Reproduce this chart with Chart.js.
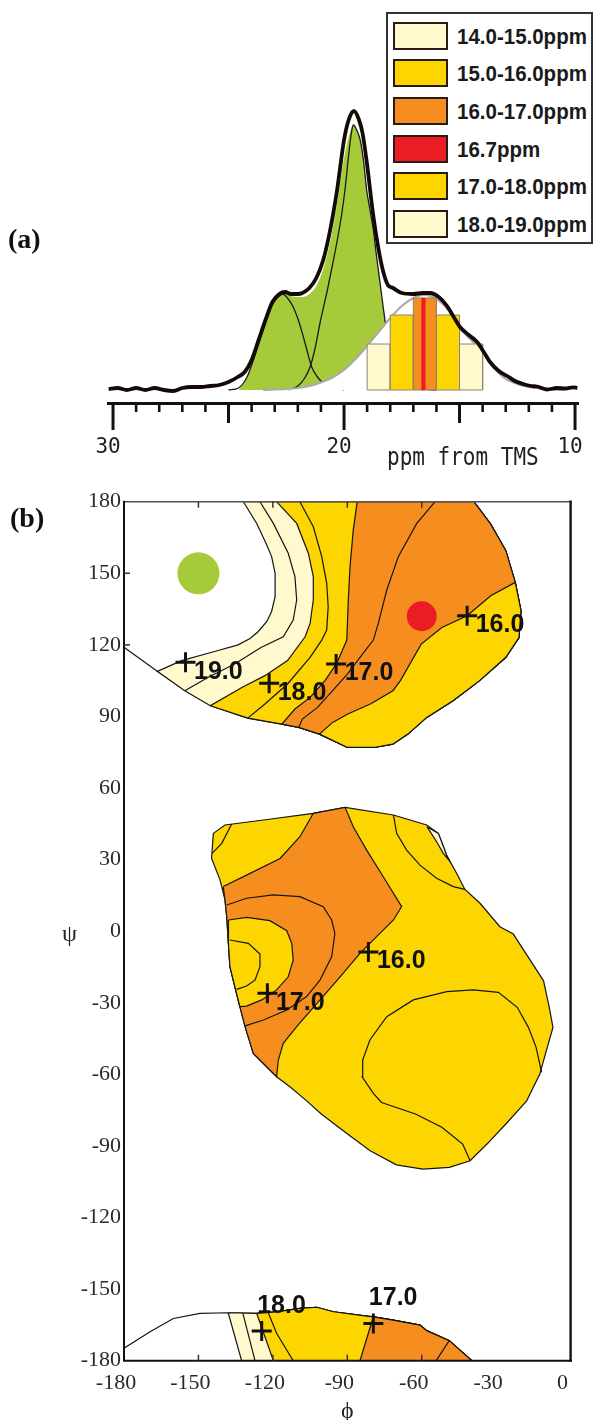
<!DOCTYPE html>
<html><head><meta charset="utf-8">
<script src="https://cdn.jsdelivr.net/npm/chart.js@4.4.1/dist/chart.umd.min.js"></script>
<style>
html,body{margin:0;padding:0;background:#fff;}
body{position:relative;width:595px;height:1420px;overflow:hidden;font-family:'Liberation Sans',Arial,sans-serif;}
canvas{position:absolute;left:0;}
#ca{top:0;}
#cb{top:470px;}
.panel{position:absolute;font-family:'Liberation Serif','Times New Roman',serif;font-weight:bold;font-size:28px;line-height:28px;color:#111;}
#legend{position:absolute;left:386px;top:12px;width:207px;height:232px;box-sizing:border-box;border:2px solid #333;background:#fff;}
.sw{position:absolute;left:5px;width:55px;height:28px;box-sizing:border-box;border:2.5px solid #2a1a14;}
.lt{position:absolute;left:69px;font-weight:bold;font-size:20.5px;line-height:28px;height:28px;color:#1a1a1a;transform:scaleY(1.12);transform-origin:left center;white-space:nowrap;}
#ppm{position:absolute;left:387px;top:443px;font-family:'DejaVu Sans Mono',monospace;font-size:21px;line-height:24px;color:#222;transform:scaleY(1.15);transform-origin:left top;white-space:nowrap;}
#psi{position:absolute;left:62px;top:919px;font-family:'Liberation Serif','Times New Roman',serif;font-size:24px;line-height:28px;color:#222;}
</style></head>
<body>
<canvas id="ca" width="595" height="470" style="width:595px;height:470px"></canvas>
<canvas id="cb" width="595" height="950" style="width:595px;height:950px"></canvas>
<div class="panel" style="left:8px;top:225px">(a)</div>
<div class="panel" style="left:10px;top:504px">(b)</div>
<div id="legend"></div>
<div id="ppm">ppm from TMS</div>
<div id="psi">ψ</div>
<script>
// ---------------- panel (a) data ----------------
const totalPpm = [30.2,29.8,29.4,29.0,28.6,28.2,27.8,27.4,27.0,26.6,26.2,25.8,25.4,25.0,24.6,24.3,24.0,23.7,23.4,23.1,22.8,22.55,22.3,22.0,21.8,21.5,21.2,20.9,20.6,20.3,20.0,19.8,19.57,19.35,19.2,19.0,18.75,18.5,18.3,18.1,17.88,17.5,17.0,16.6,16.28,15.9,15.54,15.25,14.98,14.6,14.24,13.95,13.68,13.3,12.94,12.6,12.25,11.9,11.64,11.2,10.8,10.4,10.09,9.9];
const totalInt = [1,2,0,2,0,2,0,-1,2,3,3,4,5,8,13,18,30,50,70,88,96,98,96,96,97,102,112,130,160,200,250,270,279,270,257,225,177,140,118,105,102,97,96,97,97,93,84,73,63,55,48,38,28,19,14,9,6,4,3.5,0.5,2,1.5,2.7,2];
const greenPpm = [24.57,24.3,24.0,23.7,23.4,23.1,22.8,22.55,22.3,22.0,21.8,21.5,21.2,20.9,20.6,20.3,20.0,19.8,19.6,19.45,19.3,19.15,19.02,18.9,18.73,18.6,18.44,18.3,18.15,18.0,17.8,17.5,17.0,16.5,16.0];
const greenInt = [0,8,25,48,68,85,93,96,94,93,93,96,104,121,148,187,232,253,265,260,250,228,200,183,160,135,107,82,58,42,28,14,5,1,0];
const peak1Ppm = [22.4,22.0,21.7,21.47,21.25,21.04,20.72,20.5,20.29,20.1,19.96,19.8,19.7,19.6,19.45,19.3,19.15,19.02,18.9,18.73,18.6,18.44,18.3,18.15,18.0,17.8,17.5,17.0,16.5,16.0];
const peak1Int = [0,4,12,23,42,67,100,125,150,176,200,235,254,265,260,250,228,200,183,160,135,107,82,58,42,28,14,5,1,0];
const peak2Ppm = [25.0,24.57,24.2,23.85,23.5,23.2,23.06,22.85,22.65,22.45,22.2,21.95,21.76,21.55,21.4,21.15,20.9,20.6,20.3,20.0];
const peak2Int = [0,2,13,35,60,80,87,93,96,92,83,68,53,35,23,13,7,4,2,0];
const peak3Ppm = [23.5,22.5,22.0,21.5,21.0,20.5,20.0,19.5,19.0,18.5,18.0,17.5,17.0,16.55,16.0,15.5,15.0,14.5,14.0,13.5,13.0,12.5,12.0,11.5,11.0,10.5];
const peak3Int = [0,1,2,4,7.5,12.5,20,31,44,58,72,84,92,95,91,80,62,50,38,22,11,6,3,1.5,0.5,0];
// histogram bins (ppm ranges) and heights
const binLo = [18.0,17.0,16.0,15.0,14.0];
const binHi = [19.0,18.0,17.0,16.0,15.0];
const binH  = [46,75,92,75,46];
const redLo = 16.5, redHi = 16.64, redH = 92;
const legendLabels = ['14.0-15.0ppm','15.0-16.0ppm','16.0-17.0ppm','16.7ppm','17.0-18.0ppm','18.0-19.0ppm'];
const axisTicksA = {from:10, to:30, step:1};

// ---------------- panel (b) data (phi, psi) ----------------
const topBay = [[-131.9,180],[-126.5,170.9],[-122.5,162],[-120.5,157],[-119.1,150],[-119.1,140.2],[-120.5,134],[-122.5,129.7],[-126,125.5],[-129.2,122.7],[-134,120],[-144.6,116.9],[-156.8,113.4],[-166.6,108.9]];
const topOuter = [[-166.6,108.9],[-155.5,100.8],[-145.2,94.5],[-130.1,89.3],[-116.4,86.8],[-109.6,85.4],[-101.2,82.6],[-89.9,77.0],[-79.3,77.0],[-71.7,78.4],[-65.6,82.6],[-58.0,89.6],[-47.4,96.6],[-36.7,105.0],[-26.1,114.8],[-20.8,123.1],[-20.0,134.3],[-22.3,146.2],[-26.1,159.5],[-32.2,170.6],[-39.0,180]];
const topEdge = [[-180,119],[-166.6,108.9]];
const topA = [[-125.2,180],[-119.8,170.9],[-113.8,158.4],[-111.1,148.6],[-110.4,138.8],[-111.8,130.4],[-115.8,123.4],[-124.8,118.9],[-135.4,112.0],[-146.0,106.4],[-155.5,100.8]];
const topB = [[-118.5,180],[-110.4,170.9],[-105.7,158.4],[-103.7,148.6],[-103.7,138.8],[-105.0,129],[-107.0,123.4],[-114.1,113.4],[-123.2,107.1],[-132.3,102.2],[-145.2,94.5]];
const topC = [[-109.1,180],[-103.7,169.5],[-100.3,157],[-98.3,145.8],[-97.7,136],[-98.3,126.2],[-100.3,122],[-105.0,114.8],[-114.1,103.6],[-123.2,95.2],[-130.1,89.3]];
const topD = [[-86.0,180],[-87.6,168.1],[-88.9,152.8],[-89.6,138.8],[-90.2,122],[-94.4,112.0],[-99.0,105.0],[-105.0,98.0],[-111.1,93.1],[-116.4,86.8]];
const topE = [[-54.6,180],[-62.0,170.9],[-69.4,157],[-74.1,143],[-77.5,129],[-79.5,122],[-83.8,116.2],[-89.9,107.8],[-95.9,100.8],[-102.0,93.8],[-108.1,88.9],[-109.6,85.4]];
const topF = [[-22.3,146.2],[-32.2,140.6],[-41.7,132.2],[-51.9,127.3],[-60.2,120.3],[-64.0,113.4],[-68.6,105.0],[-71.6,100.8],[-80.7,95.2],[-89.8,91.0],[-95.9,87.5],[-101.2,82.6]];

const midOuter = [[-144.0,41.0],[-139.3,44.5],[-123.8,46.6],[-103.7,49.4],[-90.9,51.9],[-71.4,48.7],[-58.0,44.5],[-53.3,41.0],[-50.0,31.9],[-45.9,24.2],[-42.6,17.5],[-36.5,11.7],[-28.5,1.9],[-23.1,-1.2],[-17.0,-11.0],[-10.9,-20.8],[-8.6,-31.9],[-7.1,-40.3],[-9.4,-48.7],[-12.4,-59.9],[-17.7,-71.1],[-26.1,-80.8],[-33.7,-89.2],[-40.5,-96.2],[-48.9,-99.0],[-59.5,-99.7],[-70.2,-97.9],[-80.8,-92.0],[-89.9,-85.0],[-100.5,-76.6],[-106.5,-71.0],[-113.1,-65.2],[-118.5,-61.0],[-122.5,-56.8],[-127.9,-51.2],[-131.2,-40.0],[-133.3,-31.6],[-135.3,-23.3],[-137.3,-14.9],[-138.0,-3.7],[-138.6,6.1],[-139.3,13.1],[-141.3,21.5],[-144.7,30.5]];
const midOrangeUpper = [[-140.0,18.7],[-130.6,23.5],[-117.1,30.5],[-109.1,39.6]];
const midOrangeRight = [[-87.6,43.8],[-82.2,34.0],[-75.5,22.8],[-68.1,10.3],[-71.4,4.7],[-78.2,-2.3],[-84.9,-9.3],[-92.9,-19.1],[-101.0,-28.8],[-110.4,-40.0],[-115.8,-47.0],[-117.8,-54.0],[-118.5,-61.0]];
const midInner = [[-137.9,4.7],[-130.6,5.8],[-121.2,4.4],[-114.4,0.2],[-112.4,-5.1],[-111.8,-12.1],[-113.8,-19.1],[-118.5,-24.6],[-124.5,-28.8],[-130.6,-31.4],[-133.3,-31.6]];
const midL1 = [[-138.6,11.0],[-130.6,13.8],[-119.8,15.2],[-109.1,14.5],[-99.7,10.3],[-96.3,4.7],[-95.0,-0.9],[-96.3,-10.7],[-101.0,-20.5],[-106.4,-27.4],[-114.4,-33.0],[-123.8,-37.2],[-131.2,-39.7]];
const midL3 = [[-137.3,-3.7],[-129.9,-5.1],[-125.2,-9.6],[-125.2,-14.9],[-127.2,-20.5],[-130.6,-23.0],[-134.6,-24.4]];
const midCorner = [[-136.6,44.9],[-140.6,36.8],[-144.5,32.6]];
const midR1 = [[-71.4,48.7],[-70.1,41.0],[-66.1,34.0],[-60.7,27.7],[-54.0,22.2],[-47.3,18.7],[-42.6,17.5]];
const midCream = [[-57.9,43.8],[-53.3,41.0],[-50.0,31.9],[-48.9,29.6],[-51.3,32.6],[-54.0,37.5]];
const midEllipse = [[-40.5,-96.2],[-43.5,-89.2],[-51.9,-82.2],[-62.5,-76.6],[-76.2,-71.8],[-79.5,-68.0],[-84.0,-61.0],[-83.8,-54.0],[-80.9,-45.6],[-74.1,-35.8],[-63.4,-28.8],[-49.9,-25.3],[-39.2,-24.6],[-29.1,-25.6],[-21.5,-31.9],[-17.0,-40.3],[-13.9,-48.7],[-11.7,-59.2]];

const botOuter = [[-180,-174.8],[-169.5,-167.9],[-160.1,-162.3],[-149.4,-160.2],[-138.0,-159.9],[-126.5,-160.2],[-118.5,-159.5],[-109.1,-158.1],[-102.3,-157.6],[-95.6,-159.5],[-82.2,-161.3],[-79.5,-161.6],[-71.5,-163.0],[-60.7,-165.1],[-58.0,-167.4],[-48.9,-171.6],[-39.8,-180]];
const botCreamFoot = [-132.6,-180], botYellowFoot = [-119.8,-180], botOrangeFoot = [-84.9,-180], botCorner = [-180,-180];
const botCreamMid = [[-132.1,-160.1],[-127.2,-180]];
const botYellowLine = [[-121.8,-160.0],[-118.5,-168.5],[-111.8,-180]];
const botOrangeLine = [[-48.9,-171.6],[-54.2,-180]];

const crossPhi = [-155.2,-121.5,-94.5,-41.7,-81.5,-122.2,-124.5,-79.5];
const crossPsi = [112.7,103.9,112.0,132.2,-8.7,-26.0,-167.6,-164.4];
const crossLabel = ['19.0','18.0','17.0','16.0','16.0','17.0','18.0','17.0'];
const crossSide = ['right','right','right','right','right','right','above','above'];
const greenDot = [-150,150];
const redDot = [-60,132];
const xTickMarksB = [-150,-120,-90,-60];
const yTickMarksB = [150,120];

// ---------------- colours ----------------
const CREAM='#FFF9CD', YELLOW='#FDD500', ORANGE='#F68E1F', RED='#EC1C24', GREEN='#A5CB3A';
const legendColors = [CREAM,YELLOW,ORANGE,RED,YELLOW,CREAM];
const binColors = [CREAM,YELLOW,ORANGE,YELLOW,CREAM];

// legend
const lg = document.getElementById('legend');
legendLabels.forEach((t,i)=>{
  const top = 7.7 + i*37.6;
  const sw = document.createElement('div'); sw.className='sw'; sw.style.top=top+'px'; sw.style.background=legendColors[i]; lg.appendChild(sw);
  const tx = document.createElement('div'); tx.className='lt'; tx.style.top=top+'px'; tx.textContent=t; lg.appendChild(tx);
});

// helpers
const xy = (xs,ys)=>xs.map((x,i)=>({x:x,y:ys[i]}));
const P = arr=>arr.map(p=>({x:p[0],y:p[1]}));
const closed = arr=>P(arr.concat([arr[0]]));
function withOrder(ds){ ds.forEach((d,i)=>{ d.order = ds.length - i; }); return ds; }

// ---------------- chart (a) ----------------
const dsA = [];
dsA.push({data:xy(greenPpm,greenInt),showLine:true,fill:'origin',backgroundColor:GREEN,borderWidth:0,pointRadius:0,cubicInterpolationMode:'monotone'});
dsA.push({data:xy(peak1Ppm,peak1Int),showLine:true,fill:false,borderColor:'#1a1a1a',borderWidth:1.3,pointRadius:0,cubicInterpolationMode:'monotone'});
dsA.push({data:xy(peak2Ppm,peak2Int),showLine:true,fill:false,borderColor:'#1a1a1a',borderWidth:1.3,pointRadius:0,cubicInterpolationMode:'monotone'});
dsA.push({data:xy(peak3Ppm,peak3Int),showLine:true,fill:'origin',backgroundColor:'#ffffff',borderColor:'#a9a9a9',borderWidth:2,pointRadius:0,cubicInterpolationMode:'monotone'});
binLo.forEach((lo,i)=>{
  const hi=binHi[i], h=binH[i];
  dsA.push({data:P([[hi,0],[hi,h],[lo,h],[lo,0],[hi,0]]),showLine:true,fill:'shape',backgroundColor:binColors[i],borderColor:'#8e8472',borderWidth:1,pointRadius:0});
});
dsA.push({data:P([[redHi,0],[redHi,redH],[redLo,redH],[redLo,0],[redHi,0]]),showLine:true,fill:'shape',backgroundColor:RED,borderColor:RED,borderWidth:0.5,pointRadius:0});
dsA.push({data:xy(totalPpm,totalInt),showLine:true,fill:false,borderColor:'#140a08',borderWidth:3.8,pointRadius:0,cubicInterpolationMode:'monotone'});
withOrder(dsA);

const specTicks = {id:'specTicks', afterDraw(chart){
  const s = chart.scales.x, ctx = chart.ctx, y0 = s.top;
  ctx.save(); ctx.strokeStyle='#111'; ctx.lineCap='butt';
  for (let v = axisTicksA.from; v <= axisTicksA.to; v += axisTicksA.step){
    const x = s.getPixelForValue(v);
    const m10 = v % 10 === 0, m5 = v % 5 === 0;
    ctx.lineWidth = m5 ? 3 : 2.6;
    ctx.beginPath(); ctx.moveTo(x, y0); ctx.lineTo(x, y0 + (m10 ? 27 : (m5 ? 20 : 9))); ctx.stroke();
  }
  ctx.restore();
}};

new Chart(document.getElementById('ca'), {
  type:'scatter',
  data:{datasets:dsA},
  options:{
    responsive:false, animation:false, events:[],
    layout:{padding:{left:108.4,right:16.5,top:60,bottom:0}},
    plugins:{legend:{display:false},tooltip:{enabled:false}},
    scales:{
      x:{type:'linear',reverse:true,min:9.85,max:30.2,
         afterFit:(s)=>{s.height=67;},
         grid:{display:false,drawTicks:true,tickLength:31},
         border:{display:true,width:3,color:'#111'},
         ticks:{stepSize:1,includeBounds:false,autoSkip:false,maxRotation:0,minRotation:0,padding:1,labelOffset:-5,color:'#222',
                font:{family:'DejaVu Sans Mono',size:21},
                callback:(v)=> (Math.abs(v%10)<1e-6 ? String(Math.round(v)) : '')}},
      y:{display:false,min:-13,max:330}
    }
  },
  plugins:[specTicks]
});

// ---------------- chart (b) ----------------
function region(arr,color){ return {data:closed(arr),showLine:true,fill:'shape',backgroundColor:color,borderColor:'#151515',borderWidth:1.2,pointRadius:0,tension:0}; }
function contour(arr){ return {data:P(arr),showLine:true,fill:false,borderColor:'#151515',borderWidth:1.2,pointRadius:0,tension:0}; }

const dsB = [];
// top region
dsB.push(region(topBay.concat(topOuter.slice(1)),CREAM));
dsB.push(region(topB.concat(topOuter.slice(3)),YELLOW));
dsB.push(region(topD.concat(topOuter.slice(5)),ORANGE));
dsB.push(region(topF.concat(topOuter.slice(7,17)),YELLOW));
[topA,topC,topE,topEdge].forEach(l=>dsB.push(contour(l)));
// middle region
dsB.push(region(midOuter,YELLOW));
dsB.push(region(midOrangeUpper.concat(midOuter.slice(3,5),midOrangeRight,midOuter.slice(33,42)),ORANGE));
dsB.push(region(midInner.concat(midOuter.slice(37,40)),YELLOW));
dsB.push(region(midCream,CREAM));
[midCorner,midL1,midL3,midR1,midEllipse].forEach(l=>dsB.push(contour(l)));
// bottom strip
dsB.push(region(botOuter.concat([botCorner]),'#ffffff'));
dsB.push(region(botOuter.slice(4).concat([botCreamFoot]),CREAM));
dsB.push(region(botOuter.slice(5).concat([botYellowFoot]),YELLOW));
dsB.push(region(botOuter.slice(11).concat([botOrangeFoot]),ORANGE));
[botCreamMid,botYellowLine,botOrangeLine].forEach(l=>dsB.push(contour(l)));
// dots and crosses
dsB.push({data:P([greenDot]),pointRadius:21,pointBackgroundColor:GREEN,pointBorderWidth:0,showLine:false});
dsB.push({data:P([redDot]),pointRadius:15,pointBackgroundColor:RED,pointBorderWidth:0,showLine:false});
dsB.push({data:xy(crossPhi,crossPsi),pointStyle:'cross',pointRadius:10,pointBorderColor:'#111',pointBorderWidth:3,showLine:false});
withOrder(dsB);

const frameB = {id:'frameB', afterDatasetsDraw(chart){
  const {left,right,top,bottom} = chart.chartArea;
  const xs = chart.scales.x, ys = chart.scales.y, ctx = chart.ctx;
  ctx.save();
  ctx.lineCap='square';
  ctx.strokeStyle='#555'; ctx.lineWidth=1.5;
  ctx.beginPath(); ctx.moveTo(left,top); ctx.lineTo(right,top); ctx.stroke();
  ctx.strokeStyle='#111'; ctx.lineWidth=2;
  ctx.beginPath(); ctx.moveTo(left,top); ctx.lineTo(left,bottom); ctx.lineTo(right,bottom); ctx.stroke();
  ctx.lineWidth=2.4; ctx.beginPath(); ctx.moveTo(right,top); ctx.lineTo(right,bottom); ctx.stroke();
  ctx.lineWidth=1.5; ctx.strokeStyle='#333'; ctx.lineCap='butt';
  xTickMarksB.forEach(v=>{ const x=xs.getPixelForValue(v);
    ctx.beginPath(); ctx.moveTo(x,top); ctx.lineTo(x,top+6); ctx.stroke();
    ctx.beginPath(); ctx.moveTo(x,bottom); ctx.lineTo(x,bottom-6); ctx.stroke(); });
  yTickMarksB.forEach(v=>{ const y=ys.getPixelForValue(v);
    ctx.beginPath(); ctx.moveTo(left,y); ctx.lineTo(left+6,y); ctx.stroke(); });
  ctx.fillStyle='#111';
  ctx.font='bold 25px "Liberation Sans", Arial, sans-serif';
  ctx.textAlign='left'; ctx.textBaseline='alphabetic';
  crossLabel.forEach((t,i)=>{
    const x=xs.getPixelForValue(crossPhi[i]), y=ys.getPixelForValue(crossPsi[i]);
    if (crossSide[i]==='right') ctx.fillText(t, x+8.5, y+16.5);
    else ctx.fillText(t, x-4.5, y-18);
  });
  ctx.restore();
}};

new Chart(document.getElementById('cb'), {
  type:'scatter',
  data:{datasets:dsB},
  options:{
    responsive:false, animation:false, events:[],
    layout:{padding:{left:0,right:24.4,top:31.7,bottom:0}},
    plugins:{legend:{display:false},tooltip:{enabled:false}},
    scales:{
      x:{type:'linear',min:-180,max:0,afterFit:(s)=>{s.height=59.3;},
         grid:{display:false,drawTicks:false},border:{display:false},
         ticks:{stepSize:30,autoSkip:false,maxRotation:0,minRotation:0,padding:9,labelOffset:-8,color:'#2a2a2a',
                font:{family:'Liberation Serif',size:22}},
         title:{display:true,text:'ϕ',color:'#222',font:{family:'Liberation Serif',size:24,lineHeight:0.7},padding:{top:0,bottom:0}}},
      y:{type:'linear',min:-180,max:180,afterFit:(s)=>{s.width=124;},
         grid:{display:false,drawTicks:false},border:{display:false},
         ticks:{stepSize:30,autoSkip:false,padding:3,color:'#2a2a2a',font:{family:'Liberation Serif',size:22}}}
    }
  },
  plugins:[frameB]
});
</script>
</body></html>
